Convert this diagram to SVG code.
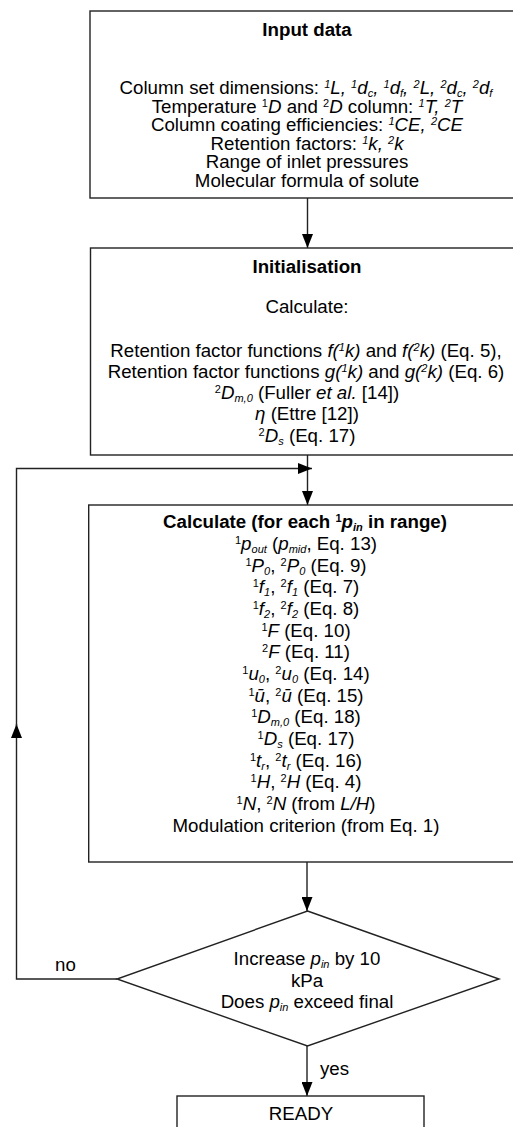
<svg xmlns="http://www.w3.org/2000/svg" width="513" height="1127" viewBox="0 0 513 1127">
<defs>
<style>
.box{fill:#fff;stroke:#222;stroke-width:1.4}
.ln{fill:none;stroke:#222;stroke-width:1.4}
text{font-family:"Liberation Sans",Arial,sans-serif;font-size:18.7px;fill:#000;text-anchor:middle}
.lbl{text-anchor:start}
.b{font-weight:bold}
.i{font-style:italic}
.sup{font-size:11px;baseline-shift:6px}
.sub{font-size:11px;baseline-shift:-3px}
</style>
<marker id="ah" markerUnits="userSpaceOnUse" markerWidth="14" markerHeight="11" refX="14" refY="5.5" orient="auto">
<path d="M0,0 L14,5.5 L0,11 Z" fill="#000"/>
</marker>
</defs>
<g id="connectors">
<path class="ln" d="M307.5,198 V248" marker-end="url(#ah)"/>
<path class="ln" d="M307.5,455 V505" marker-end="url(#ah)"/>
<path class="ln" d="M307,862 V911" marker-end="url(#ah)"/>
<path class="ln" d="M307,1046 V1096" marker-end="url(#ah)"/>
<path class="ln" d="M117,979 H16.5 V724" marker-end="url(#ah)"/>
<path class="ln" d="M16.5,726 V468.5 H312" marker-end="url(#ah)"/>
<text class="lbl" x="55" y="971">no</text>
<text class="lbl" x="320" y="1075">yes</text>
</g>
<g id="input">
<rect class="box" x="90" y="11" width="440" height="187"/>
<text x="307" y="36" class="b">Input data</text>
<text x="306" y="94">Column set dimensions: <tspan class="i"><tspan class="sup">1</tspan>L, <tspan class="sup">1</tspan>d<tspan class="sub">c</tspan>, <tspan class="sup">1</tspan>d<tspan class="sub">f</tspan>, <tspan class="sup">2</tspan>L, <tspan class="sup">2</tspan>d<tspan class="sub">c</tspan>, <tspan class="sup">2</tspan>d<tspan class="sub">f</tspan></tspan></text>
<text x="307" y="112.6">Temperature <tspan class="sup">1</tspan><tspan class="i">D</tspan> and <tspan class="sup">2</tspan><tspan class="i">D</tspan> column: <tspan class="i"><tspan class="sup">1</tspan>T, <tspan class="sup">2</tspan>T</tspan></text>
<text x="307" y="131.2">Column coating efficiencies: <tspan class="i"><tspan class="sup">1</tspan>CE, <tspan class="sup">2</tspan>CE</tspan></text>
<text x="307" y="149.8">Retention factors: <tspan class="i"><tspan class="sup">1</tspan>k, <tspan class="sup">2</tspan>k</tspan></text>
<text x="307" y="168.4">Range of inlet pressures</text>
<text x="307" y="187">Molecular formula of solute</text>
</g>
<g id="init">
<rect class="box" x="90.5" y="248" width="440" height="207"/>
<text x="307" y="273" class="b">Initialisation</text>
<text x="307" y="313">Calculate:</text>
<text x="306" y="357">Retention factor functions <tspan class="i">f(<tspan class="sup">1</tspan>k)</tspan> and <tspan class="i">f(<tspan class="sup">2</tspan>k)</tspan> (Eq. 5),</text>
<text x="306" y="378">Retention factor functions <tspan class="i">g(<tspan class="sup">1</tspan>k)</tspan> and <tspan class="i">g(<tspan class="sup">2</tspan>k)</tspan> (Eq. 6)</text>
<text x="307" y="399"><tspan class="sup">2</tspan><tspan class="i">D</tspan><tspan class="sub i">m,0</tspan> (Fuller <tspan class="i">et al.</tspan> [14])</text>
<text x="307" y="420"><tspan class="i">η</tspan> (Ettre [12])</text>
<text x="307" y="442"><tspan class="sup">2</tspan><tspan class="i">D</tspan><tspan class="sub i">s</tspan> (Eq. 17)</text>
</g>
<g id="calc">
<rect class="box" x="88.7" y="505" width="440" height="357"/>
<text x="305" y="528" class="b">Calculate (for each <tspan class="sup">1</tspan><tspan class="i">p</tspan><tspan class="sub i">in</tspan> in range)</text>
<text x="306" y="550"><tspan class="sup">1</tspan><tspan class="i">p</tspan><tspan class="sub i">out</tspan> (<tspan class="i">p</tspan><tspan class="sub i">mid</tspan>, Eq. 13)</text>
<text x="306" y="571.7"><tspan class="sup">1</tspan><tspan class="i">P</tspan><tspan class="sub i">0</tspan>, <tspan class="sup">2</tspan><tspan class="i">P</tspan><tspan class="sub i">0</tspan> (Eq. 9)</text>
<text x="306" y="593.3"><tspan class="sup">1</tspan><tspan class="i">f</tspan><tspan class="sub i">1</tspan>, <tspan class="sup">2</tspan><tspan class="i">f</tspan><tspan class="sub i">1</tspan> (Eq. 7)</text>
<text x="306" y="615"><tspan class="sup">1</tspan><tspan class="i">f</tspan><tspan class="sub i">2</tspan>, <tspan class="sup">2</tspan><tspan class="i">f</tspan><tspan class="sub i">2</tspan> (Eq. 8)</text>
<text x="306" y="636.6"><tspan class="sup">1</tspan><tspan class="i">F</tspan> (Eq. 10)</text>
<text x="306" y="658.3"><tspan class="sup">2</tspan><tspan class="i">F</tspan> (Eq. 11)</text>
<text x="306" y="680"><tspan class="sup">1</tspan><tspan class="i">u</tspan><tspan class="sub i">0</tspan>, <tspan class="sup">2</tspan><tspan class="i">u</tspan><tspan class="sub i">0</tspan> (Eq. 14)</text>
<text x="306" y="701.6"><tspan class="sup">1</tspan><tspan class="i">ū</tspan>, <tspan class="sup">2</tspan><tspan class="i">ū</tspan> (Eq. 15)</text>
<text x="306" y="723.2"><tspan class="sup">1</tspan><tspan class="i">D</tspan><tspan class="sub i">m,0</tspan> (Eq. 18)</text>
<text x="306" y="744.9"><tspan class="sup">1</tspan><tspan class="i">D</tspan><tspan class="sub i">s</tspan> (Eq. 17)</text>
<text x="306" y="766.5"><tspan class="sup">1</tspan><tspan class="i">t</tspan><tspan class="sub i">r</tspan>, <tspan class="sup">2</tspan><tspan class="i">t</tspan><tspan class="sub i">r</tspan> (Eq. 16)</text>
<text x="306" y="788.2"><tspan class="sup">1</tspan><tspan class="i">H</tspan>, <tspan class="sup">2</tspan><tspan class="i">H</tspan> (Eq. 4)</text>
<text x="306" y="809.8"><tspan class="sup">1</tspan><tspan class="i">N</tspan>, <tspan class="sup">2</tspan><tspan class="i">N</tspan> (from <tspan class="i">L/H</tspan>)</text>
<text x="306" y="831.5">Modulation criterion (from Eq. 1)</text>
</g>
<g id="decision">
<polygon class="box" points="307.5,911 499,979 307.5,1046 117,979"/>
<text x="307" y="965">Increase <tspan class="i">p</tspan><tspan class="sub i">in</tspan> by 10</text>
<text x="307" y="987">kPa</text>
<text x="307" y="1008">Does <tspan class="i">p</tspan><tspan class="sub i">in</tspan> exceed final</text>
</g>
<g id="ready">
<rect class="box" x="177" y="1096" width="247" height="50"/>
<text x="301" y="1120">READY</text>
</g>
</svg>
